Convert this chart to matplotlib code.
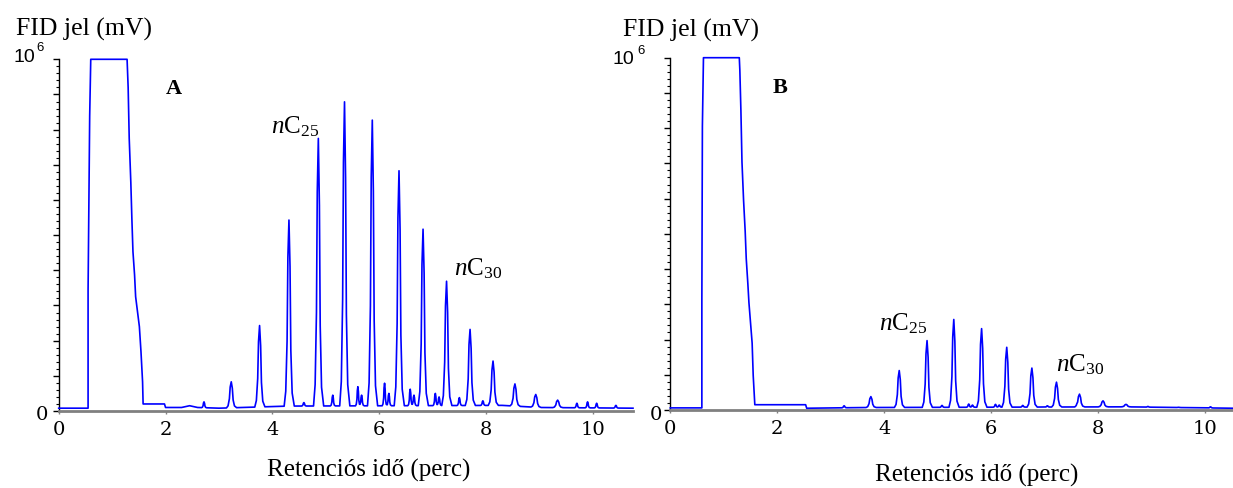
import numpy as np
import matplotlib.pyplot as plt
from matplotlib.ticker import MultipleLocator

plt.rcParams['mathtext.fontset'] = 'custom'
plt.rcParams['mathtext.rm'] = 'Liberation Serif'
plt.rcParams['mathtext.it'] = 'Liberation Serif:italic'

W, H = 1233, 488

# signal values in units of 10^6 mV, time in min
# --- panel A ---
solv_a_t = [0, 0.55, 0.55, 0.58, 0.60, 1.28, 1.30, 1.32, 1.35, 1.37, 1.39, 1.42, 1.44, 1.48, 1.51, 1.54, 1.57, 1.58]
solv_a_v = [0.008, 0.008, 0.344, 0.839, 1.0, 1.0, 0.92, 0.775, 0.65, 0.545, 0.453, 0.387, 0.325, 0.276, 0.24, 0.169, 0.083, 0.02]
base_a_t = [1.58, 1.98, 2.0, 2.3, 2.45, 2.6, 3.0, 4.3, 8.3, 9.0, 10.75]
base_a_v = [0.02, 0.02, 0.01, 0.01, 0.015, 0.01, 0.008, 0.014, 0.016, 0.01, 0.008]
peak_a_t = [3.23, 3.76, 4.31, 4.86, 5.35, 5.87, 6.37, 6.82, 7.26, 7.70, 8.13, 8.54, 8.93, 9.34]
peak_a_top = [0.083, 0.243, 0.543, 0.775, 0.879, 0.827, 0.683, 0.517, 0.369, 0.232, 0.142, 0.077, 0.047, 0.031]
small_a_t = [2.72, 4.59, 5.13, 5.60, 5.67, 6.10, 6.18, 6.58, 6.65, 7.05, 7.12, 7.50, 7.94, 9.70, 9.90, 10.07, 10.43]
small_a_top = [0.026, 0.024, 0.045, 0.069, 0.045, 0.079, 0.05, 0.062, 0.045, 0.05, 0.04, 0.038, 0.029, 0.022, 0.026, 0.022, 0.016]

# --- panel B ---
solv_b_t = [0, 0.59, 0.59, 0.60, 0.62, 1.29, 1.30, 1.32, 1.34, 1.37, 1.40, 1.42, 1.45, 1.47, 1.50, 1.53, 1.55, 1.58]
solv_b_v = [0.006, 0.006, 0.31, 0.806, 1.0, 1.0, 0.965, 0.85, 0.704, 0.595, 0.507, 0.429, 0.358, 0.305, 0.248, 0.19, 0.098, 0.015]
base_b_t = [1.58, 2.53, 2.55, 3.6, 8.5, 10.52]
base_b_v = [0.015, 0.015, 0.005, 0.007, 0.009, 0.005]
peak_b_t = [3.75, 4.28, 4.80, 5.30, 5.82, 6.29, 6.76, 7.22, 7.65, 8.09, 8.52]
peak_b_top = [0.038, 0.112, 0.197, 0.257, 0.231, 0.178, 0.119, 0.079, 0.045, 0.026, 0.016]
small_b_t = [3.25, 5.08, 5.58, 5.65, 6.08, 6.15, 6.59, 7.05, 7.60, 8.93, 9.50, 10.10]
small_b_top = [0.012, 0.013, 0.017, 0.014, 0.016, 0.014, 0.013, 0.012, 0.011, 0.01, 0.008, 0.009]

xmax_a, xmax_b = 10.75, 10.52

# peak profile (offset in min, fraction of height)
PEAK_DT = np.array([-0.09, -0.06, -0.035, -0.02, 0, 0.02, 0.035, 0.06, 0.1])
PEAK_FR = [0, 0.08, 0.35, 0.8, 1, 0.75, 0.3, 0.07, 0]


def build_trace(solv_t, solv_v, base_t, base_v, pk_t, pk_top, sm_t, sm_top):
    peaks = [(r, h, 1.0) for r, h in zip(pk_t, pk_top)] + [(r, h, 0.5) for r, h in zip(sm_t, sm_top)]
    x = list(base_t)
    for r, h, s in peaks:
        x += list(r + PEAK_DT * s)
    x = np.unique(x)
    x = x[(x >= base_t[0]) & (x <= base_t[-1])]
    y = np.interp(x, base_t, base_v)
    for r, h, s in peaks:
        amp = h - np.interp(r, base_t, base_v)
        y = y + amp * np.interp(x, r + PEAK_DT * s, PEAK_FR, left=0, right=0)
    t = np.concatenate([solv_t, x])
    v = np.concatenate([solv_v, y])
    return t, v * 1e6


def px(x, y):
    return x / W, 1 - y / H


fig = plt.figure(figsize=(12.33, 4.88), dpi=100)

panels = [
    dict(rect=[58.7, 411, 633, 59.3], xmax=xmax_a,
         data=(solv_a_t, solv_a_v, base_a_t, base_a_v, peak_a_t, peak_a_top, small_a_t, small_a_top),
         letter=("A", 166, 94), fid=(16, 36), ten=(35, 62), six=(36, 51), zero=(48, 420),
         c25=(271, 133), c30=(454, 275), xlab=(267, 477)),
    dict(rect=[670.3, 410, 1233, 57.7], xmax=xmax_b,
         data=(solv_b_t, solv_b_v, base_b_t, base_b_v, peak_b_t, peak_b_top, small_b_t, small_b_top),
         letter=("B", 773, 93), fid=(623, 37), ten=(634, 64), six=(637, 54), zero=(662, 420),
         c25=(879, 330), c30=(1056, 371), xlab=(875, 482)),
]

serif = 'Liberation Serif'
for p in panels:
    l, b, r, t = p['rect']
    ax = fig.add_axes([l / W, 1 - b / H, (r - l) / W, (b - t) / H])
    tt, vv = build_trace(*p['data'])
    ax.plot(tt, vv, color='#0000ff', lw=1.2, clip_on=False, zorder=3)
    ax.set_xlim(0, p['xmax'])
    ax.set_ylim(0, 1e6)
    for s in ['top', 'right']:
        ax.spines[s].set_visible(False)
    ax.spines['bottom'].set_color('#808080')
    ax.spines['bottom'].set_linewidth(2)
    ax.spines['left'].set_color('black')
    ax.spines['left'].set_linewidth(1)
    ax.yaxis.set_major_locator(MultipleLocator(1e5))
    ax.yaxis.set_minor_locator(MultipleLocator(2e4))
    ax.tick_params(axis='y', which='major', direction='out', length=4, width=1, labelleft=False)
    ax.tick_params(axis='y', which='minor', direction='out', length=2, width=0.8)
    ax.set_xticks([0, 2, 4, 6, 8, 10])
    ax.tick_params(axis='x', direction='out', length=2, width=1, color='#808080', pad=5)
    for lab in ax.get_xticklabels():
        lab.set_fontfamily('DejaVu Serif')
        lab.set_fontsize(14)

    fig.text(*px(*p['fid']), 'FID jel (mV)', family=serif, fontsize=18.5, va='baseline')
    fig.text(*px(*p['ten']), '10', family='Liberation Sans', fontsize=14, ha='right', va='baseline')
    fig.text(*px(*p['six']), '6', family='Liberation Sans', fontsize=9.5, ha='left', va='baseline')
    fig.text(*px(*p['zero']), '0', family='DejaVu Serif', fontsize=14, ha='right', va='baseline')
    letter, lx, ly = p['letter']
    fig.text(*px(lx, ly), letter, family=serif, fontsize=16, weight='bold', va='baseline')
    fig.text(*px(*p['c25']), r'$\mathit{n}\mathrm{C}_{25}$', fontsize=18, va='baseline')
    fig.text(*px(*p['c30']), r'$\mathit{n}\mathrm{C}_{30}$', fontsize=18, va='baseline')
    fig.text(*px(*p['xlab']), 'Retenciós idő (perc)', family=serif, fontsize=18, va='baseline')

fig.savefig('out.png', dpi=100, facecolor='white')
